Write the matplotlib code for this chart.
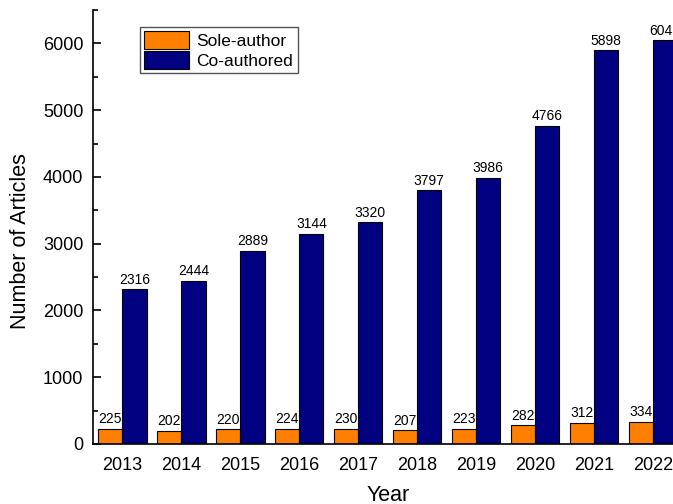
import numpy as np
import matplotlib.pyplot as plt
from matplotlib.ticker import MultipleLocator

plt.rcParams['font.family'] = ['Liberation Sans', 'DejaVu Sans']

years = ['2013', '2014', '2015', '2016', '2017', '2018', '2019', '2020', '2021', '2022']
sole = [225, 202, 220, 224, 230, 207, 223, 282, 312, 334]
co = [2316, 2444, 2889, 3144, 3320, 3797, 3986, 4766, 5898, 6045]

fig = plt.figure(figsize=(6.73, 5.04), dpi=100)
ax = fig.add_axes([93/673, 60/504, 589.5/673, 434/504])

x = np.arange(len(years))
w = 0.41
ax.bar(x - w/2, sole, w, color='#FF8000', edgecolor='black', linewidth=0.8, label='Sole-author')
ax.bar(x + w/2, co, w, color='#000080', edgecolor='black', linewidth=0.8, label='Co-authored')

for xi, v in zip(x - w/2, sole):
    ax.text(xi, v + 40, str(v), ha='center', va='bottom', fontsize=10)
for xi, v in zip(x + w/2, co):
    ax.text(xi, v + 40, str(v), ha='center', va='bottom', fontsize=10)

ax.set_xlim(-0.5, 9.5)
ax.set_ylim(0, 6500)
ax.set_xticks(x)
ax.set_xticklabels(years)
ax.yaxis.set_major_locator(MultipleLocator(1000))
ax.yaxis.set_minor_locator(MultipleLocator(500))
ax.tick_params(axis='y', which='major', direction='in', length=6, width=1.2, labelsize=13, pad=7)
ax.tick_params(axis='y', which='minor', direction='in', length=3.5, width=1.2)
ax.tick_params(axis='x', length=0, labelsize=13, pad=9)
ax.spines['top'].set_visible(False)
ax.spines['right'].set_visible(False)
ax.spines['left'].set_linewidth(1.2)
ax.spines['bottom'].set_linewidth(1.2)

ax.set_ylabel('Number of Articles', fontsize=15.5)
ax.yaxis.set_label_coords(-0.106, 0.468)
ax.set_xlabel('Year', fontsize=15.5, labelpad=8)

leg = ax.legend(loc='upper left', bbox_to_anchor=(140/673, 1 - 27/504), bbox_transform=fig.transFigure,
                fontsize=12.5, fancybox=False, framealpha=1, edgecolor='#555555',
                handlelength=2.6, handleheight=1.2, labelspacing=0.1, borderpad=0.25,
                handletextpad=0.4, borderaxespad=0)
leg.get_frame().set_linewidth(1.0)

fig.savefig('out.png', dpi=100)
